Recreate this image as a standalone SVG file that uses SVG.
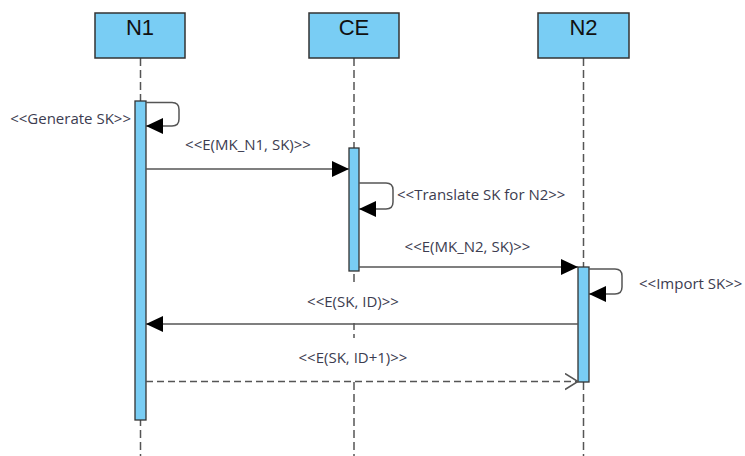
<svg xmlns="http://www.w3.org/2000/svg" width="745" height="456" viewBox="0 0 745 456">
<style>
.head{fill:#79cdf4;stroke:#333;stroke-width:1.5}
.htxt{font-family:"Liberation Sans",Arial,sans-serif;font-size:22px;fill:#111;text-anchor:middle}
.life{stroke:#555;stroke-width:1.5;stroke-dasharray:8 4;fill:none}
.act{fill:#79cdf4;stroke:#333;stroke-width:1.3}
.msg{stroke:#555;stroke-width:1.5;fill:none}
.dash{stroke-dasharray:7 4}
.lbl{font-family:"Open Sans","Noto Sans",sans-serif;font-size:15px;fill:#3c3c50}
.bg{fill:#fff}
</style>
<defs>
<marker id="fill" viewBox="0 0 17 16" refX="17" refY="8" markerWidth="17" markerHeight="16" markerUnits="userSpaceOnUse" orient="auto">
<path d="M0,0 L17,8 L0,16 Z" fill="#000"/>
</marker>
<marker id="open" viewBox="0 0 14 18" refX="13" refY="9" markerWidth="14" markerHeight="18" markerUnits="userSpaceOnUse" orient="auto">
<path d="M0,1 L13,9 L0,17" fill="none" stroke="#555" stroke-width="1.5"/>
</marker>
</defs>
<g id="lifelines">
<line class="life" x1="140.5" y1="58" x2="140.5" y2="456"/>
<line class="life" x1="354" y1="58" x2="354" y2="456"/>
<line class="life" x1="583.5" y1="58" x2="583.5" y2="456"/>
</g>
<g id="N1">
<rect class="head" x="95" y="13" width="90" height="45"/>
<text class="htxt" x="140" y="35">N1</text>
<rect class="act" x="135" y="101" width="11" height="319"/>
</g>
<g id="CE">
<rect class="head" x="309" y="13" width="90" height="45"/>
<text class="htxt" x="354" y="35">CE</text>
<rect class="act" x="349" y="148" width="10" height="123"/>
</g>
<g id="N2">
<rect class="head" x="538" y="13" width="91" height="45"/>
<text class="htxt" x="583.5" y="35">N2</text>
<rect class="act" x="578" y="267" width="11" height="115"/>
</g>
<g id="label-bg">
<rect class="bg" x="300" y="284" width="108" height="39"/>
<rect class="bg" x="295" y="338" width="118" height="42.5"/>
</g>
<g id="connectors">
<path class="msg" d="M146,102.5 H172 Q179,102.5 179,109.5 V119 Q179,126 172,126 H146" marker-end="url(#fill)"/>
<line class="msg" x1="146" y1="169" x2="349" y2="169" marker-end="url(#fill)"/>
<path class="msg" d="M359,183 H386 Q393,183 393,190 V202 Q393,209 386,209 H359" marker-end="url(#fill)"/>
<line class="msg" x1="359" y1="267" x2="578" y2="267" marker-end="url(#fill)"/>
<path class="msg" d="M589,269 H615 Q622,269 622,276 V287 Q622,294 615,294 H589" marker-end="url(#fill)"/>
<line class="msg" x1="578" y1="324" x2="146" y2="324" marker-end="url(#fill)"/>
<line class="msg dash" x1="146" y1="381.5" x2="578" y2="381.5" marker-end="url(#open)"/>
</g>
<g id="labels">
<text class="lbl" x="131" y="124" text-anchor="end">&lt;&lt;Generate SK&gt;&gt;</text>
<text class="lbl" x="248" y="150" text-anchor="middle">&lt;&lt;E(MK_N1, SK)&gt;&gt;</text>
<text class="lbl" x="397" y="200">&lt;&lt;Translate SK for N2&gt;&gt;</text>
<text class="lbl" x="467.5" y="252" text-anchor="middle">&lt;&lt;E(MK_N2, SK)&gt;&gt;</text>
<text class="lbl" x="639" y="289">&lt;&lt;Import SK&gt;&gt;</text>
<text class="lbl" x="353" y="307" text-anchor="middle">&lt;&lt;E(SK, ID)&gt;&gt;</text>
<text class="lbl" x="353" y="363" text-anchor="middle">&lt;&lt;E(SK, ID+1)&gt;&gt;</text>
</g>
</svg>
